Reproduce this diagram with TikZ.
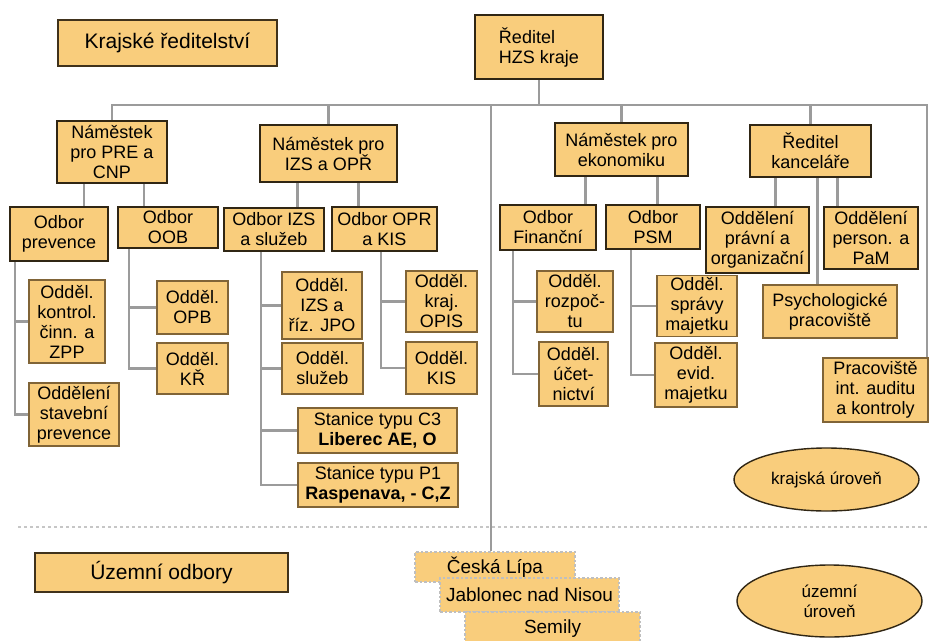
\documentclass[tikz,border=0pt]{standalone}
\usepackage{fontspec}
\setmainfont{Liberation Sans}
\usepackage{tikz}
\usetikzlibrary{shapes.geometric}
\definecolor{boxfill}{RGB}{249,205,124}
\definecolor{boxline}{RGB}{48,38,20}
\definecolor{subline}{RGB}{128,100,55}
\definecolor{wirecol}{RGB}{155,155,155}

\begin{document}
\begin{tikzpicture}[x=1pt,y=1pt,yscale=-1,
        box/.style={draw=boxline,line width=2.5pt,fill=boxfill,align=center,inner sep=2pt,font=\fontsize{18}{20}\selectfont},
        sub/.style={box,draw=subline,line width=1.6pt},
        head/.style={box,draw=boxline!80!subline,line width=2pt,font=\fontsize{21}{24}\selectfont},
        town/.style={box,draw=gray!50,dotted,line width=1.6pt,font=\fontsize{19}{22}\selectfont},
        tier/.style={box,ellipse,line width=1.4pt,font=\fontsize{17}{20}\selectfont},
        wire/.style={draw=wirecol,line width=2.5pt}]
        
        \path[use as bounding box,fill=white] (0,0) rectangle (929,640);
        
        \node[head,minimum width=219,minimum height=46] (krajske) at (167.5,43) {Krajské ředitelství};
        \node[box,minimum width=128,minimum height=64,align=left] (reditel) at (539,47) {Ředitel\\HZS kraje};
        
        \node[box,minimum width=110,minimum height=62] (nampre) at (112,152) {Náměstek\\pro PRE a\\CNP};
        \node[box,minimum width=137,minimum height=57] (namizs) at (328.5,153.5) {Náměstek pro\\IZS a OPŘ};
        \node[box,minimum width=133,minimum height=53] (namek) at (621.5,149.5) {Náměstek pro\\ekonomiku};
        \node[box,minimum width=121,minimum height=52] (namkanc) at (810.5,151) {Ředitel\\kanceláře};
        
        \node[box,minimum width=98,minimum height=54] (odbprev) at (59,234) {Odbor\\prevence};
        \node[box,minimum width=100,minimum height=41] (odboob) at (168,227.5) {Odbor\\OOB};
        \node[box,minimum width=100,minimum height=43] (odbizs) at (274,229.5) {Odbor IZS\\a služeb};
        \node[box,minimum width=105,minimum height=44] (odbopr) at (384.5,229) {Odbor OPR\\a KIS};
        \node[box,minimum width=96,minimum height=45] (odbfin) at (548,227.5) {Odbor\\Finanční};
        \node[box,minimum width=94,minimum height=44] (odbpsm) at (653,227) {Odbor\\PSM};
        \node[box,minimum width=103,minimum height=66] (oddpravni) at (757.5,240) {Oddělení\\právní a\\organizační};
        \node[box,minimum width=94,minimum height=62] (oddperson) at (871,238) {Oddělení\\person. a\\PaM};
        \node[sub,minimum width=134,minimum height=53] (psych) at (830,311.5) {Psychologické\\pracoviště};
        \node[sub,minimum width=105,minimum height=64] (audit) at (875.5,390) {Pracoviště\\int. auditu\\a kontroly};
        
        \node[sub,minimum width=76,minimum height=83] (kontrol) at (67,321.5) {Odděl.\\kontrol.\\činn. a\\ZPP};
        \node[sub,minimum width=90,minimum height=63] (stavebni) at (74,414.5) {Oddělení\\stavební\\prevence};
        \node[sub,minimum width=71,minimum height=53] (opb) at (192.5,307.5) {Odděl.\\OPB};
        \node[sub,minimum width=71,minimum height=51] (kr) at (192.5,368.5) {Odděl.\\KŘ};
        \node[sub,minimum width=80,minimum height=67] (oddizs) at (322,305.5) {Odděl.\\IZS a\\říz. JPO};
        \node[sub,minimum width=81,minimum height=51] (sluzeb) at (322.5,368.5) {Odděl.\\služeb};
        \node[sub,minimum width=159,minimum height=45] (stanc) at (377.5,430.5) {Stanice typu C3\\\textbf{Liberec AE, O}};
        \node[sub,minimum width=160,minimum height=44] (stanp) at (378,485) {Stanice typu P1\\\textbf{Raspenava, - C,Z}};
        \node[sub,minimum width=71,minimum height=61] (opis) at (441.5,301.5) {Odděl.\\kraj.\\OPIS};
        \node[sub,minimum width=71,minimum height=52] (kis) at (441.5,368) {Odděl.\\KIS};
        \node[sub,minimum width=76,minimum height=61] (rozpocet) at (575,301.5) {Odděl.\\rozpoč-\\tu};
        \node[sub,minimum width=69,minimum height=64] (ucetni) at (573.5,374) {Odděl.\\účet-\\nictví};
        \node[sub,minimum width=80,minimum height=60] (spravy) at (697,306) {Odděl.\\správy\\majetku};
        \node[sub,minimum width=82,minimum height=64] (evid) at (696,375) {Odděl.\\evid.\\majetku};
        
        \node[tier,minimum width=185,minimum height=63] (krajlvl) at (826.5,479.5) {krajská úroveň};
        \node[tier,minimum width=185,minimum height=72] (uzlvl) at (829.5,601) {územní\\úroveň};
        
        \node[head,minimum width=253,minimum height=39] (uzodb) at (161.5,572.5) {Územní odbory};
        \node[town,minimum width=160,minimum height=30] (ceska) at (495,567) {Česká Lípa};
        \node[town,minimum width=179,minimum height=34] (jablonec) at (529.5,595) {Jablonec nad Nisou};
        \node[town,minimum width=175,minimum height=34] (semily) at (552.5,629) {Semily};
        
        \draw[gray!45,line width=1.8pt,dash pattern=on 3pt off 3pt] (18,527) -- (929,527);
        
        \coordinate (bus) at (0,105);
        \coordinate (busr) at (927,105);
        \coordinate (mid) at (491,105);
        \draw[wire] (nampre.north) |- (busr) -- (busr |- audit.north);
        \draw[wire] (reditel.south) -- (reditel.south |- bus);
        \draw[wire] (namizs.north) -- (namizs.north |- bus);
        \draw[wire] (namek.north) -- (namek.north |- bus);
        \draw[wire] (namkanc.north) -- (namkanc.north |- bus);
        \draw[wire] (mid) -- (mid |- ceska.north);
        
        \draw[wire] ([xshift=-28]nampre.south) -- ([xshift=-28]nampre.south |- odbprev.north);
        \draw[wire] ([xshift=32]nampre.south) -- ([xshift=32]nampre.south |- odboob.north);
        \draw[wire] ([xshift=-31]namizs.south) -- ([xshift=-31]namizs.south |- odbizs.north);
        \draw[wire] ([xshift=30]namizs.south) -- ([xshift=30]namizs.south |- odbopr.north);
        \draw[wire] ([xshift=-36]namek.south) -- ([xshift=-36]namek.south |- odbfin.north);
        \draw[wire] ([xshift=36]namek.south) -- ([xshift=36]namek.south |- odbpsm.north);
        \draw[wire] ([xshift=-35]namkanc.south) -- ([xshift=-35]namkanc.south |- oddpravni.north);
        \draw[wire] ([xshift=27]namkanc.south) -- ([xshift=27]namkanc.south |- oddperson.north);
        \draw[wire] ([xshift=7]namkanc.south) -- ([xshift=7]namkanc.south |- psych.north);
        
        \draw[wire] ([xshift=6]odbprev.south west) |- (kontrol.west);
        \draw[wire] ([xshift=6]odbprev.south west) |- (stavebni.west);
        \draw[wire] ([xshift=12]odboob.south west) |- (opb.west);
        \draw[wire] ([xshift=12]odboob.south west) |- (kr.west);
        \draw[wire] ([xshift=38]odbizs.south west) |- (oddizs.west);
        \draw[wire] ([xshift=38]odbizs.south west) |- (sluzeb.west);
        \draw[wire] ([xshift=38]odbizs.south west) |- (stanc.west);
        \draw[wire] ([xshift=38]odbizs.south west) |- (stanp.west);
        \draw[wire] ([xshift=50]odbopr.south west) |- (opis.west);
        \draw[wire] ([xshift=50]odbopr.south west) |- (kis.west);
        \draw[wire] ([xshift=14]odbfin.south west) |- (rozpocet.west);
        \draw[wire] ([xshift=14]odbfin.south west) |- (ucetni.west);
        \draw[wire] ([xshift=26]odbpsm.south west) |- (spravy.west);
        \draw[wire] ([xshift=26]odbpsm.south west) |- (evid.west);
    \end{tikzpicture}
\end{document}
